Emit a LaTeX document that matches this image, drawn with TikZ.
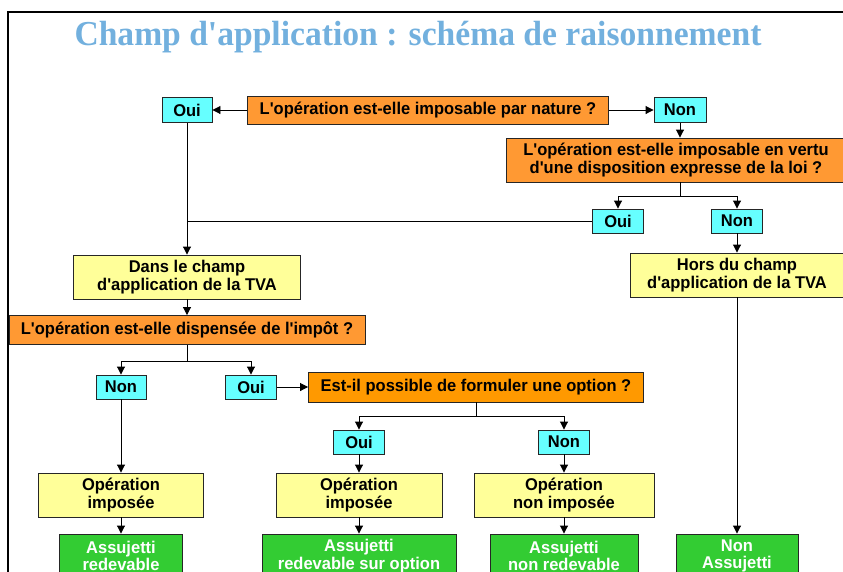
\documentclass[tikz,border=0pt]{standalone}
\usepackage{fontspec}
\setmainfont{Liberation Sans}[Ligatures=TeXOff, FakeStretch=0.97]
\newfontfamily\titlefont[FakeStretch=0.96, Ligatures=TeXOff]{Liberation Serif}
\usetikzlibrary{arrows.meta,calc}
\definecolor{orA}{RGB}{255,153,51}
\definecolor{orB}{RGB}{255,153,0}
\definecolor{cyn}{RGB}{102,255,255}
\definecolor{yel}{RGB}{255,255,153}
\definecolor{grn}{RGB}{51,204,51}
\definecolor{ttl}{RGB}{114,176,222}
\tikzset{
  box/.style={draw=black!85, line width=0.9pt, align=center, inner sep=0pt,
    font=\bfseries\fontsize{17}{17.5}\selectfont},
  quest/.style={box, fill=orA},
  questb/.style={box, fill=orB},
  ans/.style={box, fill=cyn, minimum width=51pt, minimum height=24pt},
  res/.style={box, fill=yel, minimum height=44pt},
  fin/.style={box, fill=grn, text=white, minimum height=44pt},
  arr/.style={-{Triangle[length=8pt,width=8pt]}, line width=0.9pt},
  ln/.style={line width=0.9pt},
}
\begin{document}
\begin{tikzpicture}[x=1pt,y=-1pt]
\useasboundingbox (0,0) rectangle (843,571);
\clip (0,0) rectangle (843,571);
% frame
\draw[line width=2pt] (8,580) -- (8,12) -- (850,12);
% title
\node[text=ttl, font=\titlefont\bfseries\fontsize{35}{35}\selectfont] (title) at (418,37) {Champ d'application : schéma de raisonnement};
% nodes
\node[quest, minimum width=361pt, minimum height=28pt] (q1) at (428,110) {L'opération est-elle imposable par nature ?};
\node[ans, minimum width=50pt, minimum height=25pt] (oui1) at (187,110) {Oui};
\node[ans, minimum width=52pt, minimum height=25pt] (non1) at (680,110) {Non};
\node[quest, minimum width=340pt, minimum height=44pt] (q2) at (676,160) {L'opération est-elle imposable en vertu\\d'une disposition expresse de la loi ?};
\node[ans] (oui2) at (618,221) {Oui};
\node[ans] (non2) at (737,221) {Non};
\node[res, minimum width=227pt] (dans) at (187,277) {Dans le champ\\d'application de la TVA};
\node[res, minimum width=214pt] (hors) at (737,275) {Hors du champ\\d'application de la TVA};
\node[quest, minimum width=356pt, minimum height=29pt] (q3) at (187,330) {L'opération est-elle dispensée de l'impôt ?};
\node[ans, minimum width=50pt] (non3) at (121,387) {Non};
\node[ans] (oui3) at (251,387) {Oui};
\node[questb, minimum width=335pt, minimum height=30pt] (q4) at (476,387) {Est-il possible de formuler une option ?};
\node[ans] (oui4) at (359,442) {Oui};
\node[ans] (non4) at (564,442) {Non};
\node[res, minimum width=165pt] (op1) at (121,495) {Opération\\imposée};
\node[res, minimum width=166pt] (op2) at (359,495) {Opération\\imposée};
\node[res, minimum width=180pt] (op3) at (564,495) {Opération\\non imposée};
\node[fin, minimum width=123pt] (g1) at (121,556) {Assujetti\\redevable};
\node[fin, minimum width=194pt] (g2) at (359,556) {Assujetti\\redevable sur option};
\node[fin, minimum width=148pt] (g3) at (564,556) {Assujetti\\non redevable};
\node[fin, minimum width=122pt] (g4) at (737,556) {Non\\Assujetti};
% connectors
\draw[arr] (q1.west) -- (oui1.east);
\draw[arr] (q1.east) -- (non1.west);
\draw[arr] (non1.south) -- (non1.south |- q2.north);
\coordinate (j1) at ($(non1.south |- q2.south)+(0,14)$);
\draw[ln] (non1.south |- q2.south) -- (j1);
\draw[arr] (j1) -| (oui2.north);
\draw[arr] (j1) -| (non2.north);
\draw[arr] (oui1.south) -- (dans.north);
\draw[ln] (oui2.west) -- (oui1.south |- oui2.west);
\draw[arr] (non2.south) -- (hors.north);
\draw[arr] (hors.south) -- (g4.north);
\draw[arr] (dans.south) -- (q3.north);
\coordinate (j2) at ($(q3.south)+(0,16)$);
\draw[ln] (q3.south) -- (j2);
\draw[arr] (j2) -| (non3.north);
\draw[arr] (j2) -| (oui3.north);
\draw[arr] (oui3.east) -- (q4.west);
\coordinate (j3) at ($(q4.south)+(0,14)$);
\draw[ln] (q4.south) -- (j3);
\draw[arr] (j3) -| (oui4.north);
\draw[arr] (j3) -| (non4.north);
\draw[arr] (non3.south) -- (op1.north);
\draw[arr] (oui4.south) -- (op2.north);
\draw[arr] (non4.south) -- (op3.north);
\draw[arr] (op1.south) -- (g1.north);
\draw[arr] (op2.south) -- (g2.north);
\draw[arr] (op3.south) -- (g3.north);
\end{tikzpicture}
\end{document}
